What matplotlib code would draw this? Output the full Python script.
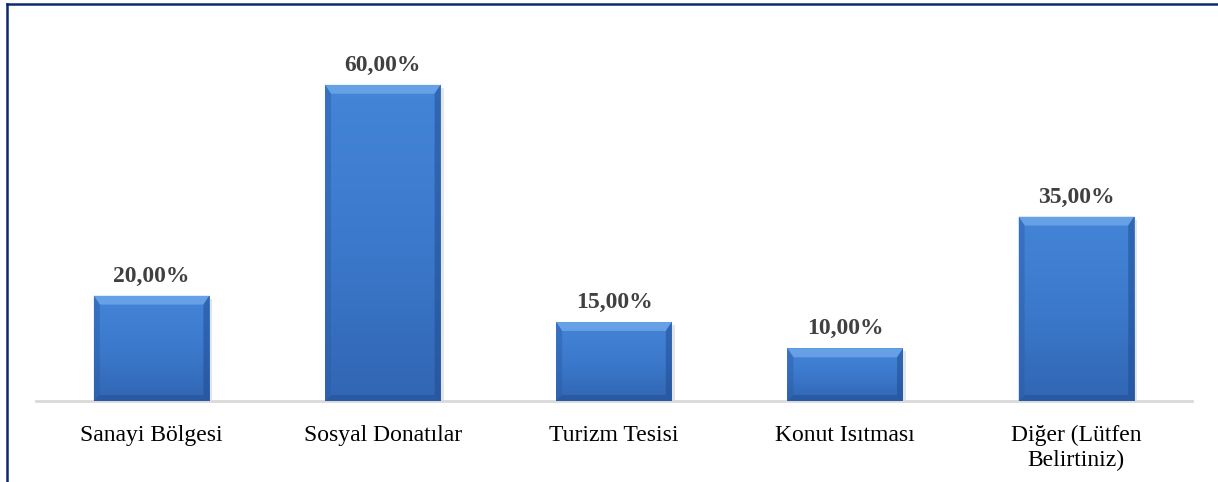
import matplotlib
matplotlib.use("Agg")
import matplotlib.pyplot as plt
import numpy as np
from matplotlib.patches import Polygon
from matplotlib.lines import Line2D
from matplotlib.colors import LinearSegmentedColormap

categories = ["Sanayi Bölgesi", "Sosyal Donatılar", "Turizm Tesisi", "Konut Isıtması", "Diğer (Lütfen\nBelirtiniz)"]
values = [20.0, 60.0, 15.0, 10.0, 35.0]
value_labels = ["20,00%", "60,00%", "15,00%", "10,00%", "35,00%"]

W, H = 1218, 482
fig = plt.figure(figsize=(W / 100, H / 100), dpi=100)
fig.patch.set_facecolor("white")
ax = fig.add_axes([36 / W, 81 / H, (1192 - 36) / W, 369 / H])
ax.set_xlim(-0.5, len(categories) - 0.5)
ax.set_ylim(0, 70)

x = np.arange(len(categories))
bars = ax.bar(x, values, width=0.5, color="#3F7DD0", zorder=2)

grad = np.linspace(0, 1, 256).reshape(-1, 1)
cmap = LinearSegmentedColormap.from_list("g", ["#3166B3", "#3C79CC", "#4485D8"])
for b in bars:
    bx, by = b.get_x(), b.get_y()
    bw, bh = b.get_width(), b.get_height()
    im = ax.imshow(grad, extent=[bx, bx + bw, by, by + bh], origin="lower",
                   cmap=cmap, aspect="auto", zorder=3)
    im.set_clip_path(b)

ax.set_xlim(-0.5, len(categories) - 0.5)
ax.set_ylim(0, 70)

fig.canvas.draw()
for b in bars:
    (x0, y0), (x1, y1) = ax.transData.transform([(b.get_x(), 0), (b.get_x() + b.get_width(), b.get_height())])
    bt, bs = 9, 6
    ax.add_patch(Polygon([(x0 + 3, y0 - 3), (x1 + 3, y0 - 3), (x1 + 3, y1 - 3), (x1, y1 - 3), (x1, y0), (x0 + 3, y0)],
                         closed=True, transform=None, facecolor="#000000", alpha=0.10, edgecolor="none", zorder=1))
    top = Polygon([(x0, y1), (x1, y1), (x1 - bs, y1 - bt), (x0 + bs, y1 - bt)], closed=True,
                  transform=None, facecolor="#7FB4F0", alpha=0.6, edgecolor="none", zorder=4)
    left = Polygon([(x0, y1), (x0 + bs, y1 - bt), (x0 + bs, y0 + bs), (x0, y0)], closed=True,
                   transform=None, facecolor="#2A5CA8", alpha=0.45, edgecolor="none", zorder=4)
    right = Polygon([(x1, y1), (x1 - bs, y1 - bt), (x1 - bs, y0 + bs), (x1, y0)], closed=True,
                    transform=None, facecolor="#1F4A8E", alpha=0.5, edgecolor="none", zorder=4)
    bottom = Polygon([(x0, y0), (x1, y0), (x1 - bs, y0 + bs), (x0 + bs, y0 + bs)], closed=True,
                     transform=None, facecolor="#1F4A8E", alpha=0.45, edgecolor="none", zorder=4)
    for p in (top, left, right, bottom):
        ax.add_artist(p)

for xi, v, lab in zip(x, values, value_labels):
    ax.annotate(lab, (xi, v), xytext=(0, 10), textcoords="offset points", ha="center", va="baseline",
                fontsize=17, fontweight="bold", color="#404040", family="Liberation Serif", zorder=5)

for s in ("top", "right", "left"):
    ax.spines[s].set_visible(False)
ax.spines["bottom"].set_color("#D9D9D9")
ax.spines["bottom"].set_linewidth(2)
ax.spines["bottom"].set_zorder(1)
ax.set_yticks([])
ax.set_xticks(x)
ax.set_xticklabels(categories, fontsize=17, family="Liberation Serif", color="black", linespacing=1.25)
ax.tick_params(axis="x", length=0, pad=17)
ax.set_facecolor("none")

fig.add_artist(Line2D([6.5 / W, 1218 / W], [1 - 4 / H, 1 - 4 / H], color="#0D2A6B", lw=1.8))
fig.add_artist(Line2D([6.5 / W, 6.5 / W], [0, 1 - 4 / H], color="#0D2A6B", lw=1.8))

fig.savefig("out.png", dpi=100)
